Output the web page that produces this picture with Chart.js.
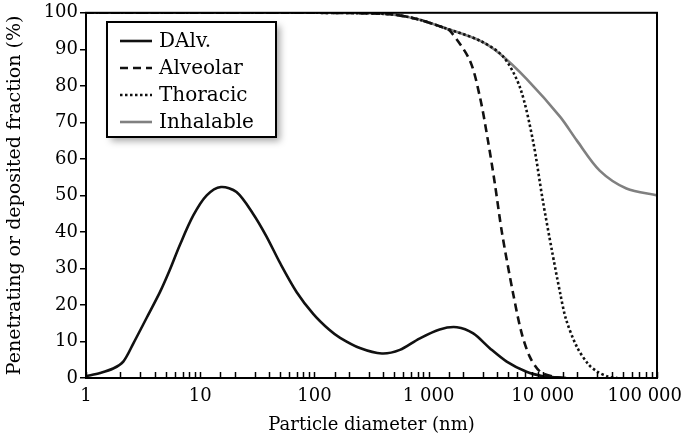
<!DOCTYPE html>
<html>
<head>
<meta charset="utf-8">
<script src="https://cdn.jsdelivr.net/npm/chart.js@4"></script>
<style>
  html, body { margin: 0; padding: 0; background: #fff; }
</style>
</head>
<body>
<canvas id="chart" width="685" height="442"></canvas>
<script>
// particle diameter (nm) and fraction (%)
const dalvX = [1, 1.33, 1.73, 2.12, 2.6, 3.4, 4.44, 5.4, 6.65, 8.7, 11.4, 15.2, 20.8, 29, 38, 50, 70, 98, 135, 168, 250, 390, 560, 830, 1250, 1770, 2460, 3450, 4830, 7200, 10000, 13000, 16000];
const dalvY = [0.5, 1.4, 2.6, 4.5, 9.5, 16.5, 23.5, 29.5, 36.5, 44.5, 50, 52.3, 50.9, 45, 38.8, 31.5, 23.5, 17.5, 13.2, 11, 8.2, 6.7, 7.7, 10.8, 13.3, 13.9, 12.2, 8.1, 4.5, 1.7, 0.5, 0.2, 0];

const alvX = [1, 100, 460, 790, 1340, 1550, 2300, 2820, 3310, 3800, 4400, 5500, 6500, 7700, 9500, 12500, 15000];
const alvY = [100, 100, 99.6, 98.3, 96, 95, 86.9, 76.8, 65, 53.3, 39.6, 23.1, 12.5, 5.8, 1.7, 0.3, 0];

const thorX = [1, 100, 460, 790, 1340, 2840, 4500, 6320, 8200, 10000, 12000, 14200, 16000, 19900, 25000, 29800, 37000, 45000];
const thorY = [100, 100, 99.6, 98.3, 96, 92.3, 88, 79.5, 65, 48.6, 35, 23.2, 16, 8.5, 3.8, 1.8, 0.4, 0];

const inhX = [1, 10, 100, 300, 460, 790, 1340, 2840, 4230, 7200, 14200, 19900, 31500, 54000, 100000];
const inhY = [100, 100, 100, 99.9, 99.6, 98.3, 96, 92.3, 88.7, 81.9, 71.5, 65, 56.8, 51.9, 50];

const seriesNames = ["DAlv.", "Alveolar", "Thoracic", "Inhalable"];
const xTickValues = [1, 10, 100, 1000, 10000, 100000];
const xTickLabels = ["1", "10", "100", "1 000", "10 000", "100 000"];

const FONT = "'DejaVu Serif', serif";

function pts(xs, ys) {
  return xs.map((x, i) => ({ x: x, y: ys[i] }));
}

// box around the plot area, inward minor ticks and decade labels on the x axis
const framePlugin = {
  id: "frame",
  afterDatasetsDraw(chart) {
    const { ctx, chartArea: a, scales: { x } } = chart;
    ctx.save();
    ctx.strokeStyle = "#000";
    ctx.lineWidth = 1.5;
    x.ticks.forEach(t => {
      const px = Math.round(x.getPixelForValue(t.value)) + 0.5;
      ctx.beginPath();
      ctx.moveTo(px, a.bottom);
      ctx.lineTo(px, a.bottom - 6);
      ctx.stroke();
    });
    ctx.lineWidth = 2;
    ctx.strokeRect(a.left, a.top, a.right - a.left, a.bottom - a.top);

    ctx.font = "18px " + FONT;
    ctx.fillStyle = "#000";
    ctx.textAlign = "center";
    ctx.textBaseline = "middle";
    xTickValues.forEach((v, i) => {
      const w = ctx.measureText(xTickLabels[i]).width;
      const px = Math.min(x.getPixelForValue(v), chart.width - 3 - w / 2);
      ctx.fillText(xTickLabels[i], px, a.bottom + 18);
    });
    ctx.restore();
  }
};

// framed legend with a soft drop shadow
const legendPlugin = {
  id: "boxLegend",
  afterDraw(chart) {
    const ctx = chart.ctx;
    const bx = 107, by = 22, bw = 169, bh = 115;
    ctx.save();
    ctx.shadowColor = "rgba(0,0,0,0.35)";
    ctx.shadowBlur = 7;
    ctx.shadowOffsetX = 4;
    ctx.shadowOffsetY = 4;
    ctx.fillStyle = "#fff";
    ctx.fillRect(bx, by, bw, bh);
    ctx.shadowColor = "transparent";
    ctx.strokeStyle = "#000";
    ctx.lineWidth = 2;
    ctx.strokeRect(bx, by, bw, bh);
    ctx.font = "20px " + FONT;
    ctx.textBaseline = "middle";
    chart.data.datasets.forEach((ds, i) => {
      const y = by + 19 + i * 27;
      ctx.strokeStyle = ds.borderColor;
      ctx.lineWidth = ds.borderWidth;
      ctx.setLineDash(ds.borderDash || []);
      ctx.beginPath();
      ctx.moveTo(bx + 13, y);
      ctx.lineTo(bx + 45, y);
      ctx.stroke();
      ctx.setLineDash([]);
      ctx.fillStyle = "#000";
      ctx.fillText(ds.label, bx + 52, y + 1);
    });
    ctx.restore();
  }
};

const ctx = document.getElementById("chart").getContext("2d");
new Chart(ctx, {
  type: "line",
  data: {
    datasets: [
      { label: seriesNames[0], data: pts(dalvX, dalvY), borderColor: "#111", borderWidth: 2.6 },
      { label: seriesNames[1], data: pts(alvX, alvY), borderColor: "#111", borderWidth: 2.6, borderDash: [8, 5] },
      { label: seriesNames[2], data: pts(thorX, thorY), borderColor: "#111", borderWidth: 2.6, borderDash: [2.5, 2.5] },
      { label: seriesNames[3], data: pts(inhX, inhY), borderColor: "#808080", borderWidth: 2.6 }
    ]
  },
  options: {
    responsive: false,
    animation: false,
    devicePixelRatio: 1,
    layout: { padding: { top: 12, right: 28, left: 0, bottom: 0 } },
    elements: {
      point: { radius: 0 },
      line: { tension: 0.3, fill: false }
    },
    plugins: { legend: { display: false }, tooltip: { enabled: false } },
    scales: {
      x: {
        type: "logarithmic",
        min: 1,
        max: 100000,
        afterFit: s => { s.height = 64; s.paddingLeft = 0; s.paddingRight = 0; },
        border: { display: false },
        grid: { display: false, drawTicks: false },
        ticks: { display: false, autoSkip: false },
        title: {
          display: true,
          text: "Particle diameter (nm)",
          color: "#000",
          font: { family: FONT, size: 18 },
          padding: { top: 0, bottom: 6 }
        }
      },
      y: {
        min: 0,
        max: 100,
        afterFit: s => { s.width = 86; },
        border: { display: false },
        grid: { drawOnChartArea: false, tickLength: 6, color: "#000", lineWidth: 1.5 },
        ticks: {
          stepSize: 10,
          padding: 2,
          color: "#000",
          font: { family: FONT, size: 18 }
        },
        title: {
          display: true,
          text: "Penetrating or deposited fraction (%)",
          color: "#000",
          font: { family: FONT, size: 19 },
          padding: { top: 4, bottom: 0 }
        }
      }
    }
  },
  plugins: [framePlugin, legendPlugin]
});
</script>
</body>
</html>
